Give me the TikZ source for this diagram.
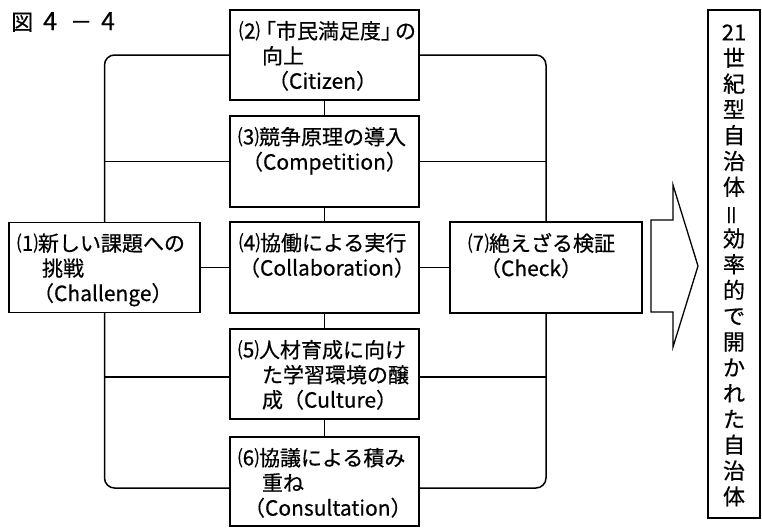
\documentclass[tikz,border=0pt]{standalone}
\usepackage{fontspec}
\setmainfont{Noto Sans CJK JP}[FakeBold=0.5]
\usepackage{graphicx}
\newcommand{\bt}[3]{\parbox[c][#2][t]{#1}{\hyphenpenalty=10000\exhyphenpenalty=10000\vspace*{11pt}#3}}
\begin{document}
\begin{tikzpicture}[x=1pt,y=-1pt,
  box/.style={draw, line width=1.5pt, inner sep=0pt, outer sep=0pt,
    font=\fontsize{21pt}{25pt}\selectfont},
  ln/.style={line width=1.5pt},
  corner/.style={line width=1.5pt, rounded corners=10pt}]
\useasboundingbox (0,0) rectangle (762,528);
\fill[white] (0,0) rectangle (762,528);

\node[anchor=west, inner sep=0pt, font=\fontsize{22pt}{24pt}\selectfont] (title) at (11,22)
  {図\hspace{10pt}{\fontsize{25pt}{26pt}\selectfont 4}\hspace{13pt}－\hspace{9pt}{\fontsize{25pt}{26pt}\selectfont 4}};

\node[box] (b2) at (324.5,55) {\bt{189pt}{90pt}{\hspace*{9pt}⑵\kern-5pt「市民満足度」\kern-7pt の\\\hspace*{32pt}向上\\\hspace*{38pt}\mbox{（Citizen）}}};
\node[box] (b3) at (324.5,161.5) {\bt{189pt}{91pt}{\hspace*{8pt}⑶競争原理の導入\\\hspace*{12pt}\mbox{（Competition）}}};
\node[box] (b4) at (324.5,267.5) {\bt{189pt}{91pt}{\hspace*{9pt}⑷協働による実行\\\hspace*{9pt}\mbox{（Collaboration）}}};
\node[box] (b5) at (324.5,374) {\bt{189pt}{90pt}{\hspace*{8pt}⑸人材育成に向け\\\hspace*{32pt}た学習環境の醸\\\hspace*{32pt}\mbox{成（Culture）}}};
\node[box] (b6) at (324.5,481.5) {\bt{189pt}{89pt}{\hspace*{8pt}⑹協議による積み\\\hspace*{32pt}重ね\\\hspace*{14pt}\mbox{（Consultation）}}};
\node[box] (b1) at (104.5,267.5) {\bt{191pt}{90pt}{\hspace*{8pt}⑴新しい課題への\\\hspace*{33pt}挑戦\\\hspace*{24pt}\mbox{（Challenge）}}};
\node[box] (b7) at (546,267.5) {\bt{192pt}{91pt}{\hspace*{18pt}⑺絶えざる検証\\\hspace*{30pt}\mbox{（Check）}}};

\node[draw, line width=1.5pt, inner sep=0pt, minimum width=52pt, minimum height=508pt,
  align=center, font=\fontsize{22pt}{25.8pt}\selectfont] (rb) at (734,264)
  {\\[-7pt]21\\世\\紀\\型\\自\\治\\体\\\rotatebox[origin=c]{90}{＝}\\効\\率\\的\\で\\開\\か\\れ\\た\\自\\治\\体};

% vertical links between central boxes
\draw[ln] (b2.south) -- (b3.north);
\draw[ln] (b3.south) -- (b4.north);
\draw[ln] (b4.south) -- (b5.north);
\draw[ln] (b5.south) -- (b6.north);

% left bus
\draw[corner] (b2.west) -| (b1.north);
\draw[corner] (b1.south) |- ([yshift=-6.5pt]b6.west);
\draw[ln] (b3.west) -- (b3.west -| b1.north);
\draw[ln] (b1.east) -- (b4.west);
\draw[ln] ([yshift=-3pt]b5.west) -- ([yshift=-3pt]b5.west -| b1.north);

% right bus
\draw[corner] (b2.east) -| (b7.north);
\draw[ln] (b3.east) -- (b3.east -| b7.north);
\draw[ln] (b4.east) -- (b7.west);
\draw[ln] ([yshift=-3pt]b5.east) -- ([yshift=-3pt]b5.east -| b7.south);
\draw[corner] ([yshift=-6.5pt]b6.east) -| (b7.south);

% big arrow
\draw[line width=1.3pt, line join=miter] (651,220) -- (673,220) -- (673,185) -- (698,266)
  -- (673,347) -- (673,312) -- (651,312) -- cycle;
\end{tikzpicture}
\end{document}
